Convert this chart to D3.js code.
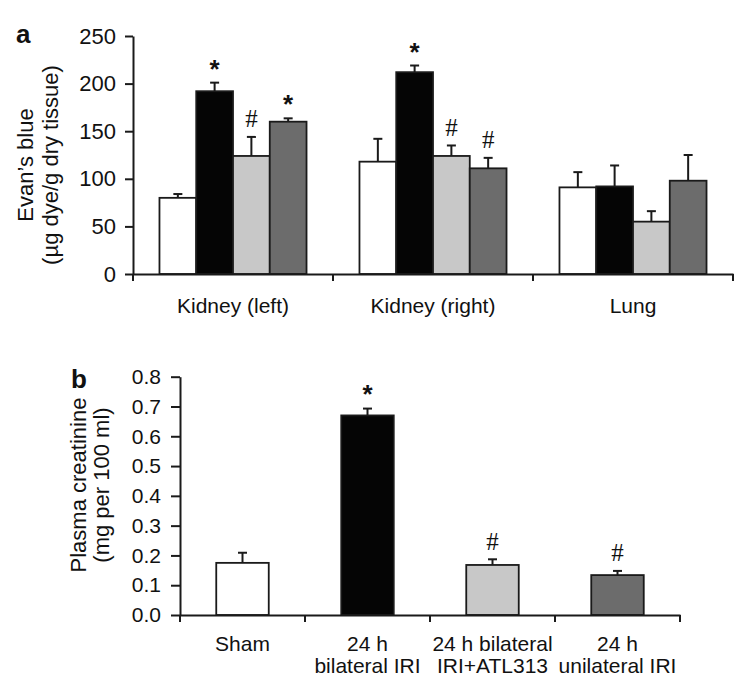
<!DOCTYPE html>
<html><head><meta charset="utf-8">
<script src="https://cdn.jsdelivr.net/npm/d3@7"></script>
<style>
body{margin:0;background:#fff}
text{font-family:"Liberation Sans",Arial,Helvetica,sans-serif;fill:#111}
</style></head>
<body><svg id="c" width="750" height="692"></svg>
<script>
// ---------- data ----------
const tissues = ["Kidney (left)", "Kidney (right)", "Lung"];
const groups = ["Sham", "24 h bilateral IRI", "24 h bilateral IRI+ATL313", "24 h unilateral IRI"];
const evansMean = [[80, 192, 124, 160], [118, 212, 124, 111], [91, 92, 55, 98]];
const evansErr  = [[4, 9, 20, 3.5], [24, 7, 11, 11], [16, 22, 11, 27]];
const evansMarks = [["", "*", "#", "*"], ["", "*", "#", "#"], ["", "", "", ""]];
const evansTicks = [0, 50, 100, 150, 200, 250];
const creatLabels = [["Sham"], ["24 h", "bilateral IRI"], ["24 h bilateral", "IRI+ATL313"], ["24 h", "unilateral IRI"]];
const creatMean = [0.175, 0.670, 0.168, 0.134];
const creatErr  = [0.034, 0.023, 0.019, 0.014];
const creatMarks = ["", "*", "#", "#"];
const creatTicks = [0, 0.1, 0.2, 0.3, 0.4, 0.5, 0.6, 0.7, 0.8];
const colors = ["#ffffff", "#050505", "#c8c8c8", "#6c6c6c"];

const svg = d3.select("#c");
const ink = "#1a1a1a";

function mark(g, sym, cx, cy) {
  if (!sym) return;
  if (sym === "*") {
    g.append("text").attr("x", cx).attr("y", cy + 15).attr("text-anchor", "middle")
      .style("font-size", "26px").style("font-weight", "bold").text("*");
  } else {
    g.append("text").attr("x", cx).attr("y", cy + 8.5).attr("text-anchor", "middle")
      .style("font-family", '"Liberation Serif","Times New Roman",serif')
      .style("font-size", "25px").text(sym);
  }
}

// ---------- panel a ----------
{
  const g = svg.append("g");
  const x0 = d3.scaleBand().domain(tissues).range([133, 733]).padding(0);
  const x1 = d3.scaleBand().domain(groups).range([0, x0.bandwidth()]).paddingInner(0).paddingOuter(0.72);
  const y = d3.scaleLinear().domain([0, 250]).range([274, 36]);

  tissues.forEach((t, i) => {
    groups.forEach((s, j) => {
      const v = evansMean[i][j], e = evansErr[i][j];
      const bx = x0(t) + x1(s), bw = x1.bandwidth(), cx = bx + bw / 2;
      g.append("line").attr("x1", cx).attr("x2", cx).attr("y1", y(v)).attr("y2", y(v + e))
        .attr("stroke", ink).attr("stroke-width", 2);
      g.append("line").attr("x1", cx - 4.5).attr("x2", cx + 4.5).attr("y1", y(v + e)).attr("y2", y(v + e))
        .attr("stroke", ink).attr("stroke-width", 2);
      g.append("rect").attr("x", bx).attr("y", y(v)).attr("width", bw).attr("height", y(0) - y(v))
        .attr("fill", colors[j]).attr("stroke", ink).attr("stroke-width", 1.8);
      mark(g, evansMarks[i][j], cx, y(v + e) - (evansMarks[i][j] === "*" ? 20 : 18));
    });
  });

  const ya = g.append("g").attr("transform", "translate(133,0)")
    .call(d3.axisLeft(y).tickValues(evansTicks).tickSize(8).tickPadding(9).tickSizeOuter(0));
  ya.select(".domain").attr("stroke", ink).attr("stroke-width", 2);
  ya.selectAll(".tick line").attr("stroke", ink).attr("stroke-width", 2);
  ya.selectAll(".tick text").style("font-size", "22px").attr("fill", "#111")
    .style("font-family", '"Liberation Sans",Arial,sans-serif');

  const xa = g.append("g").attr("transform", "translate(0,274)")
    .call(d3.axisBottom(x0).tickSize(0).tickPadding(0).tickSizeOuter(0));
  xa.select(".domain").attr("stroke", ink).attr("stroke-width", 2);
  xa.selectAll(".tick text").attr("y", 39).attr("dy", 0).style("font-size", "21px").attr("fill", "#111")
    .style("font-family", '"Liberation Sans",Arial,sans-serif');
  [133].concat(tissues.map(t => x0(t) + x0.bandwidth())).forEach(px => {
    g.append("line").attr("x1", px).attr("x2", px).attr("y1", 274).attr("y2", 281)
      .attr("stroke", ink).attr("stroke-width", 2);
  });

  g.append("text").attr("x", 16).attr("y", 43).style("font-size", "26px").style("font-weight", "bold").text("a");
  const yl = g.append("text").attr("transform", "translate(33,165) rotate(-90)").attr("text-anchor", "middle")
    .style("font-size", "22px");
  yl.append("tspan").attr("x", 0).attr("y", 0).text("Evan\u2019s blue");
  yl.append("tspan").attr("x", 0).attr("y", 24.5).text("(\u00b5g dye/g dry tissue)");
}

// ---------- panel b ----------
{
  const g = svg.append("g");
  const x = d3.scaleBand().domain(groups).range([180, 680]).padding(0);
  const y = d3.scaleLinear().domain([0, 0.8]).range([615, 376.7]);
  const bw = x.bandwidth() * 0.42;

  groups.forEach((s, j) => {
    const v = creatMean[j], e = creatErr[j];
    const cx = x(s) + x.bandwidth() / 2, bx = cx - bw / 2;
    g.append("line").attr("x1", cx).attr("x2", cx).attr("y1", y(v)).attr("y2", y(v + e))
      .attr("stroke", ink).attr("stroke-width", 2);
    g.append("line").attr("x1", cx - 4.5).attr("x2", cx + 4.5).attr("y1", y(v + e)).attr("y2", y(v + e))
      .attr("stroke", ink).attr("stroke-width", 2);
    g.append("rect").attr("x", bx).attr("y", y(v)).attr("width", bw).attr("height", y(0) - y(v))
      .attr("fill", colors[j]).attr("stroke", ink).attr("stroke-width", 1.8);
    mark(g, creatMarks[j], cx, y(v + e) - (creatMarks[j] === "*" ? 21 : 18));
  });

  const ya = g.append("g").attr("transform", "translate(180,0)")
    .call(d3.axisLeft(y).tickValues(creatTicks).tickFormat(d3.format(".1f")).tickSize(9).tickPadding(10).tickSizeOuter(0));
  ya.select(".domain").attr("stroke", ink).attr("stroke-width", 2);
  ya.selectAll(".tick line").attr("stroke", ink).attr("stroke-width", 2);
  ya.selectAll(".tick text").style("font-size", "21px").attr("fill", "#111")
    .style("font-family", '"Liberation Sans",Arial,sans-serif');

  const xa = g.append("g").attr("transform", "translate(0,615)")
    .call(d3.axisBottom(x).tickSize(0).tickFormat("").tickSizeOuter(0));
  xa.select(".domain").attr("stroke", ink).attr("stroke-width", 2);
  [180].concat(groups.map(s => x(s) + x.bandwidth())).forEach(px => {
    g.append("line").attr("x1", px).attr("x2", px).attr("y1", 615).attr("y2", 622)
      .attr("stroke", ink).attr("stroke-width", 2);
  });
  groups.forEach((s, j) => {
    const t = g.append("text").attr("text-anchor", "middle").style("font-size", "21px");
    creatLabels[j].forEach((ln, k) => {
      t.append("tspan").attr("x", x(s) + x.bandwidth() / 2).attr("y", 651 + k * 22).text(ln);
    });
  });

  g.append("text").attr("x", 71).attr("y", 388).style("font-size", "26px").style("font-weight", "bold").text("b");
  const yl = g.append("text").attr("transform", "translate(86,485) rotate(-90)").attr("text-anchor", "middle")
    .style("font-size", "22px");
  yl.append("tspan").attr("x", 0).attr("y", 0).text("Plasma creatinine");
  yl.append("tspan").attr("x", 0).attr("y", 23).text("(mg per 100 ml)");
}
</script></body></html>
